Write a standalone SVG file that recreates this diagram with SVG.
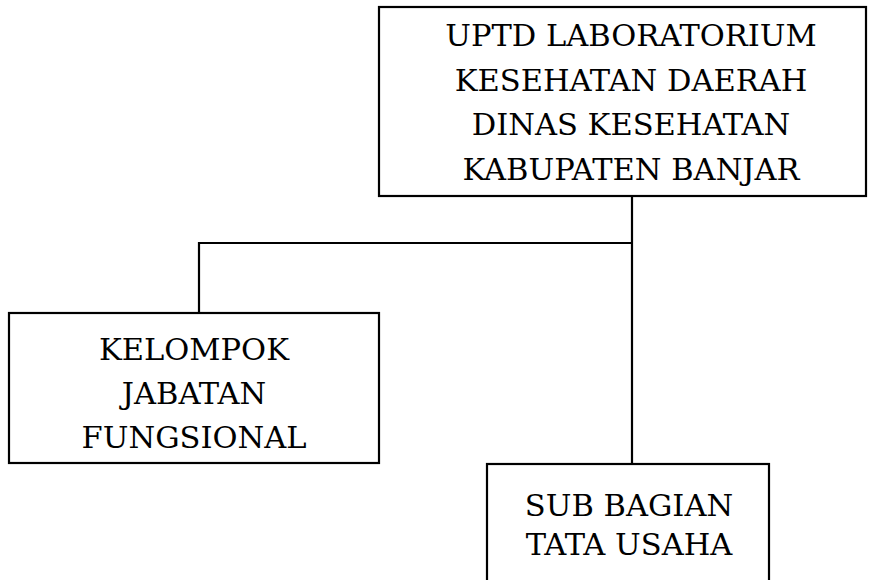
<svg xmlns="http://www.w3.org/2000/svg" width="876" height="580" viewBox="0 0 876 580">
<style>
.box{fill:#fff;stroke:#000;stroke-width:2.2}
.t{font-family:"DejaVu Serif","Liberation Serif",serif;font-size:30.5px;text-anchor:middle;fill:#000}
.c{fill:none;stroke:#000;stroke-width:2.2}
</style>
<rect width="876" height="580" fill="#fff"/>
<g id="connectors">
<path class="c" d="M632 197V465"/>
<path class="c" d="M632 243H199V313"/>
</g>
<g id="uptd">
<rect class="box" x="379" y="7" width="487" height="189"/>
<text class="t" x="631" y="46">UPTD LABORATORIUM</text>
<text class="t" x="631" y="91">KESEHATAN DAERAH</text>
<text class="t" x="631" y="135">DINAS KESEHATAN</text>
<text class="t" x="631" y="180">KABUPATEN BANJAR</text>
</g>
<g id="kelompok">
<rect class="box" x="9" y="313" width="370" height="150"/>
<text class="t" x="194" y="360">KELOMPOK</text>
<text class="t" x="194" y="404">JABATAN</text>
<text class="t" x="194" y="448">FUNGSIONAL</text>
</g>
<g id="subbagian">
<rect class="box" x="487" y="464" width="282" height="130"/>
<text class="t" x="629" y="516">SUB BAGIAN</text>
<text class="t" x="629" y="555">TATA USAHA</text>
</g>
</svg>
